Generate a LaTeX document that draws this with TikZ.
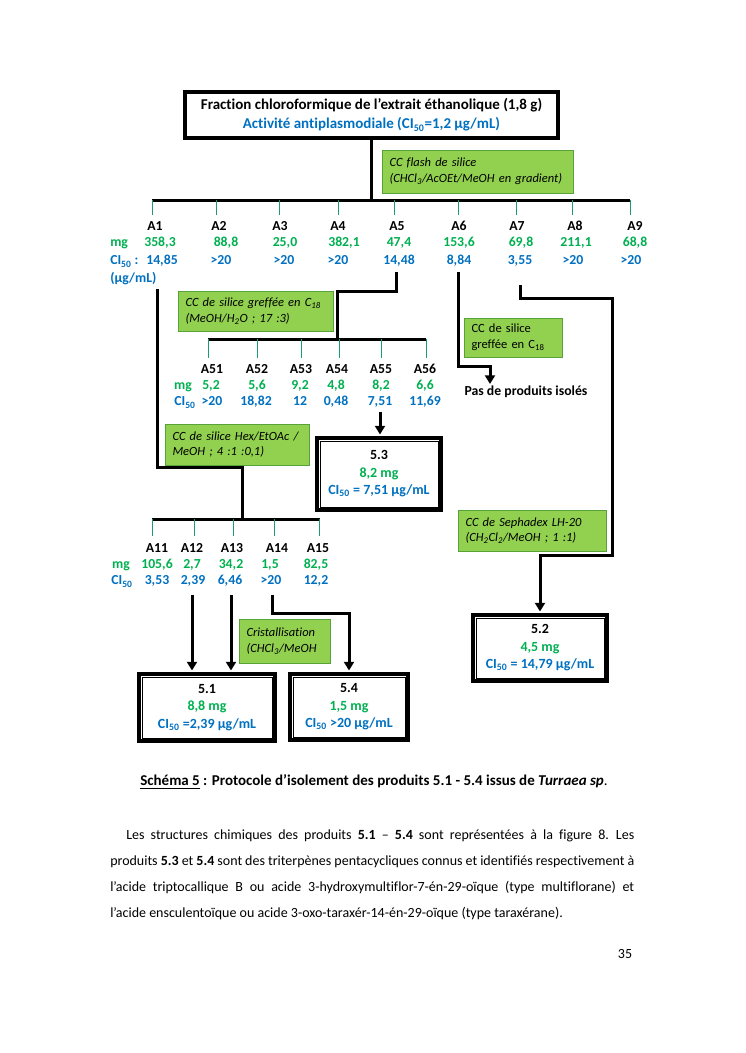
\documentclass[tikz,border=0pt]{standalone}
\usepackage{fontspec}
\setmainfont{Carlito}[Ligatures=NoCommon]
\usetikzlibrary{arrows.meta}
\definecolor{tgreen}{HTML}{00B050}
\definecolor{tblue}{HTML}{0070C0}
\definecolor{gfill}{HTML}{92D050}
\definecolor{gdraw}{HTML}{58A23A}
\definecolor{tickc}{HTML}{1B9E6E}
\newcommand{\frcol}[7]{%
  \node[lbl] (n#1) at (#2,\yN) {#5};
  \node[lbl,text=tgreen] (m#1) at (#3,\yM) {#6};
  \node[lbl,text=tblue] (c#1) at (#4,\yC) {#7};}
\newcommand{\prodframe}[1]{%
  \draw[line width=0.8pt] ([xshift=4pt,yshift=-4pt]#1.north west) rectangle ([xshift=-4pt,yshift=4pt]#1.south east);}
\newcommand{\tightsp}{\spaceskip=0.226em plus 0.4em minus 0.12em\relax}
\begin{document}
\begin{tikzpicture}[x=0.8pt,y=-0.8pt,
  thk/.style={line width=2.4pt},
  tck/.style={line width=0.8pt,draw=tickc},
  arr/.style={thk,-{Triangle[length=7pt,width=8pt]},shorten >=1.2pt},
  lbl/.style={font=\bfseries\fontsize{11}{13}\selectfont,inner sep=0pt,anchor=mid},
  gbox/.style={draw=gdraw,fill=gfill,line width=0.8pt,font=\itshape\fontsize{10}{12.5}\selectfont,align=left,inner xsep=6pt,inner ysep=0pt},
  prod/.style={draw,line width=3.2pt,inner sep=0pt,align=center,font=\bfseries\fontsize{11.2}{14}\selectfont},
]
\useasboundingbox (0,0) rectangle (745,1053);

% top box
\node[draw,line width=3.2pt,minimum width=298.4pt,minimum height=36.8pt,align=center,inner sep=0pt,font=\bfseries\fontsize{12}{15.2}\selectfont] (top) at (371.5,115)
  {Fraction chloroformique de l’extrait éthanolique (1,8 g)\\\textcolor{tblue}{Activité antiplasmodiale (CI\textsubscript{50}=1,2 µg/mL)}};

% green boxes
\node[gbox,text width=140.8pt,minimum height=34.4pt] (g1) at (477.5,171.5)
  {\mbox{CC flash de silice}\\\mbox{(CHCl\textsubscript{3}/AcOEt/MeOH en gradient)}};
\node[gbox,text width=112pt,minimum height=32pt] (g2) at (255.5,311)
  {\mbox{CC de silice greffée en C\textsubscript{18}}\\\mbox{(MeOH/H\textsubscript{2}O ; 17 :3)}};
\node[gbox,text width=66.4pt,minimum height=31.2pt,font=\fontsize{10}{12.5}\selectfont] (g3) at (513,337.5)
  {\mbox{CC de silice}\\\mbox{greffée en C\textsubscript{18}}};
\node[gbox,text width=103.2pt,minimum height=32.8pt] (g4) at (237,444.5)
  {\mbox{CC de silice Hex/EtOAc /}\\\mbox{MeOH ; 4 :1 :0,1)}};
\node[gbox,text width=106.4pt,minimum height=32.8pt] (g5) at (532,530.5)
  {\mbox{CC de Sephadex LH-20}\\\mbox{(CH\textsubscript{2}Cl\textsubscript{2}/MeOH ; 1 :1)}};
\node[gbox,text width=60.8pt,minimum height=35.2pt] (g6) at (284.5,641)
  {\mbox{Cristallisation}\\\mbox{(CHCl\textsubscript{3}/MeOH}};

% level 1
\def\yN{228}\def\yM{244}\def\yC{262}
\frcol{1}{155}{160}{162}{A1}{358,3}{14,85}
\frcol{2}{219}{226}{221}{A2}{88,8}{>20}
\frcol{3}{280}{285}{284}{A3}{25,0}{>20}
\frcol{4}{338}{344}{338}{A4}{382,1}{>20}
\frcol{5}{397}{399}{399}{A5}{47,4}{14,48}
\frcol{6}{459}{459}{459}{A6}{153,6}{8,84}
\frcol{7}{517}{521}{520}{A7}{69,8}{3,55}
\frcol{8}{575}{576}{573}{A8}{211,1}{>20}
\frcol{9}{635}{635}{631}{A9}{68,8}{>20}
\node[lbl,anchor=mid west,text=tgreen] (mgA) at (110,244) {mg};
\node[lbl,anchor=mid west,text=tblue] (ciA) at (110,262) {CI\textsubscript{50} :};
\node[lbl,anchor=mid west,text=tblue] (unA) at (110,280) {(µg/mL)};

% level 2
\def\yN{371}\def\yM{387}\def\yC{403}
\frcol{51}{212}{211}{212}{A51}{5,2}{>20}
\frcol{52}{257}{257}{256}{A52}{5,6}{18,82}
\frcol{53}{301}{300}{300}{A53}{9,2}{12}
\frcol{54}{337}{336}{336}{A54}{4,8}{0,48}
\frcol{55}{381}{381}{380}{A55}{8,2}{7,51}
\frcol{56}{425}{425}{425}{A56}{6,6}{11,69}
\node[lbl,text=tgreen] (mgB) at (183,387) {mg};
\node[lbl,text=tblue] (ciB) at (185,403) {CI\textsubscript{50}};

% level 3
\def\yN{550}\def\yM{566}\def\yC{582}
\frcol{11}{157}{157}{157}{A11}{105,6}{3,53}
\frcol{12}{192}{192}{193}{A12}{2,7}{2,39}
\frcol{13}{232}{231}{230}{A13}{34,2}{6,46}
\frcol{14}{277}{270}{271}{A14}{1,5}{>20}
\frcol{15}{318}{316}{316}{A15}{82,5}{12,2}
\node[lbl,text=tgreen] (mgC) at (121,566) {mg};
\node[lbl,text=tblue] (ciC) at (122,582) {CI\textsubscript{50}};

% product boxes
\node[prod,minimum width=99.2pt,minimum height=57.6pt] (b53) at (379,474)
  {5.3\\\textcolor{tgreen}{8,2 mg}\\\textcolor{tblue}{CI\textsubscript{50} = 7,51 µg/mL}};
\node[prod,minimum width=108.8pt,minimum height=53.6pt] (b51) at (207,707.5)
  {5.1\\\textcolor{tgreen}{8,8 mg}\\\textcolor{tblue}{CI\textsubscript{50} =2,39 µg/mL}};
\node[prod,minimum width=94.4pt,minimum height=52.8pt] (b54) at (349,707)
  {5.4\\\textcolor{tgreen}{1,5 mg}\\\textcolor{tblue}{CI\textsubscript{50} >20 µg/mL}};
\node[prod,minimum width=107.2pt,minimum height=52.8pt] (b52) at (540,648)
  {5.2\\\textcolor{tgreen}{4,5 mg}\\\textcolor{tblue}{CI\textsubscript{50} = 14,79 µg/mL}};
\prodframe{b53}\prodframe{b51}\prodframe{b54}\prodframe{b52}

\node[lbl] (pas) at (526,393) {Pas de produits isolés};

% bars and ticks
\coordinate (bar1L) at (152,200); \coordinate (bar1R) at (630,200);
\coordinate (bar2L) at (208,339); \coordinate (bar2R) at (426,339);
\coordinate (bar3L) at (152,519); \coordinate (bar3R) at (320,519);
\draw[thk] (top.south) -- (top.south |- bar1L);
\draw[thk] (bar1L) -- (bar1R);
\draw[thk] (bar2L) -- (bar2R);
\draw[thk] (bar3L) -- (bar3R);
\foreach \x in {152,216,279,338,394,458,516,572,630} \draw[tck] (\x,200) -- (\x,215);
\foreach \x in {208,257,301,339,381,426} \draw[tck] (\x,339) -- (\x,358);
\foreach \x in {152,194,233,274,319} \draw[tck] (\x,519) -- (\x,536);

% connectors
\coordinate (s1) at (157,289); \coordinate (k1) at (157,467); \coordinate (t3) at (242,519);
\draw[thk] (s1) -- (k1) -| (t3);
\coordinate (s5) at (396,272); \coordinate (t2) at (337,339);
\draw[thk] (s5) -- ++(0,19) -| (t2);
\coordinate (s6) at (458,272); \coordinate (e6) at (490,384);
\draw[arr,shorten >=0pt] (s6) -- ++(0,94) -| (e6);
\coordinate (s7) at (520,285);
\draw[arr] (s7) -- ++(0,13) -- ++(92,0) -- ++(0,257) -| (b52.north);
\coordinate (s55) at (380,412);
\draw[arr] (s55) -- (s55 |- b53.north);
\coordinate (s12) at (192,595); \coordinate (s13) at (231,595); \coordinate (s14) at (272,595);
\draw[arr] (s12) -- (s12 |- b51.north);
\draw[arr] (s13) -- (s13 |- b51.north);
\draw[arr] (s14) -- ++(0,18) -| (b54.north);

% caption and text
\node[font=\bfseries\fontsize{12}{14}\selectfont,inner sep=0pt,anchor=mid] (cap) at (374,783)
  {\underline{Schéma 5} : Protocole d’isolement des produits 5.1 - 5.4 issus de \textit{Turraea sp}{\mdseries.}};
\node[anchor=north west,inner sep=0pt,text width=419.2pt,align=left,font=\fontsize{11.2}{20.8}\selectfont] (para) at (110,830)
  {\tightsp\makebox[419.2pt][s]{\hspace*{12.8pt}Les structures chimiques des produits \textbf{5.1} – \textbf{5.4} sont représentées à la figure 8. Les}\\
   \makebox[419.2pt][s]{produits \textbf{5.3} et \textbf{5.4} sont des triterpènes pentacycliques connus et identifiés respectivement à}\\
   \makebox[419.2pt][s]{l’acide triptocallique B ou acide 3-hydroxymultiflor-7-én-29-oïque (type multiflorane) et}\\
   l’acide ensculentoïque ou acide 3-oxo-taraxér-14-én-29-oïque (type taraxérane).};
\node[font=\fontsize{11.2}{13}\selectfont,inner sep=0pt,anchor=mid] (pg) at (625,956) {35};
\end{tikzpicture}
\end{document}
